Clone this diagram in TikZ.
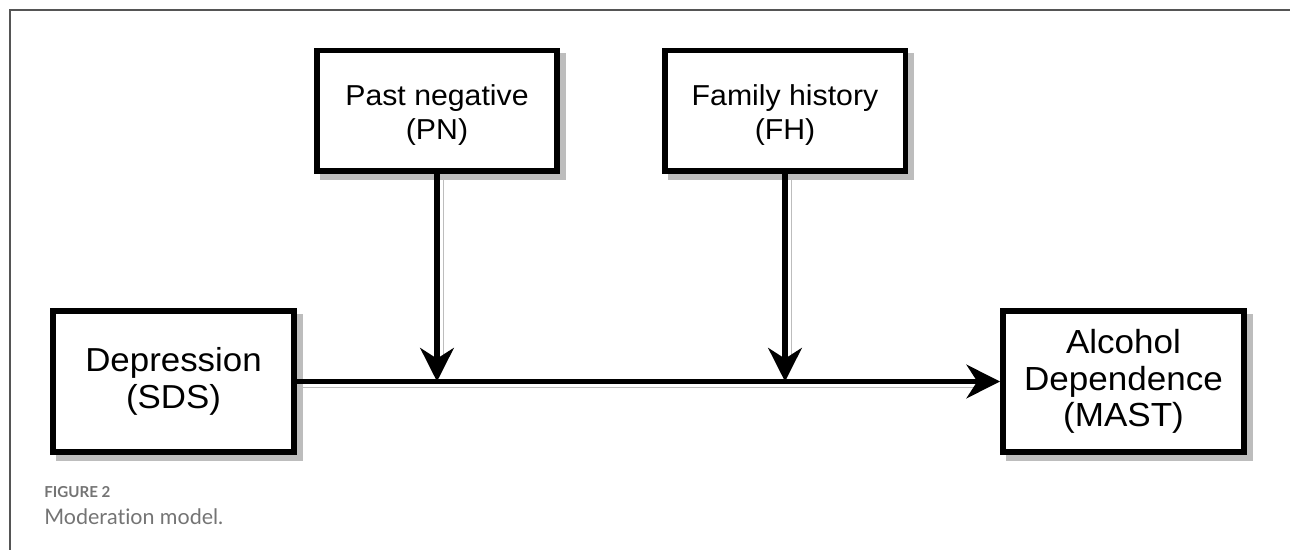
\documentclass[tikz,border=0pt]{standalone}
\usepackage{fontspec}
\usetikzlibrary{arrows.meta,shadows}
\newfontfamily\boxfont[FakeStretch=1.05]{Liberation Sans}
\newfontfamily\capfont[Ligatures=NoCommon]{Lato}
\definecolor{framegray}{HTML}{555555}
\definecolor{capgray}{HTML}{747474}
\definecolor{shadegray}{HTML}{BDBDBD}

\begin{document}
\begin{tikzpicture}[x=0.02cm,y=-0.02cm]
			\useasboundingbox (0,0) rectangle (1290,550);
			\draw[framegray,line width=0.8pt] (10,550) -- (10,10) -- (1290,10);

			\begin{scope}[every node/.style={draw,line width=3.4pt,fill=white,align=center,minimum width=4.82cm,
					drop shadow={shadow xshift=3.4pt,shadow yshift=-3.4pt,opacity=1,fill=shadegray,draw=shadegray,line width=3.4pt}}]
				\node[minimum height=2.42cm,font=\boxfont\fontsize{16.4}{19}\selectfont] (PN) at (437,111) {\rule{0pt}{1em}Past negative\\(PN)};
				\node[minimum height=2.42cm,font=\boxfont\fontsize{16.4}{19}\selectfont] (FH) at (785,111) {\rule{0pt}{1em}Family history\\(FH)};
				\node[minimum height=2.82cm,font=\boxfont\fontsize{18.9}{21.5}\selectfont] (Dep) at (173.5,381.5) {Depression\\(SDS)};
				\node[minimum height=2.82cm,font=\boxfont\fontsize{19}{20.8}\selectfont] (MAST) at (1123.5,381.5) {Alcohol\\Dependence\\(MAST)};
			\end{scope}

			\coordinate (PNend) at (PN.south |- Dep.east);
			\coordinate (FHend) at (FH.south |- Dep.east);

			\begin{scope}[every edge/.style={draw,line width=3.4pt,-{Stealth[length=19pt,width=19pt,inset=6pt]},
					preaction={draw=shadegray,-,shorten >=14pt,transform canvas={xshift=3.4pt,yshift=-3.4pt}}}]
				\path (Dep) edge (MAST);
				\path (PN) edge (PNend);
				\path (FH) edge (FHend);
			\end{scope}

			\node[anchor=base west,inner sep=0pt,text=capgray,font=\capfont\bfseries\fontsize{8.6}{10}\selectfont] (figlabel) at (44,497) {FIGURE 2};
			\node[anchor=base west,inner sep=0pt,text=capgray,font=\capfont\fontsize{12.2}{14}\selectfont] (figcaption) at (44,524) {Moderation model.};
		\end{tikzpicture}
\end{document}
